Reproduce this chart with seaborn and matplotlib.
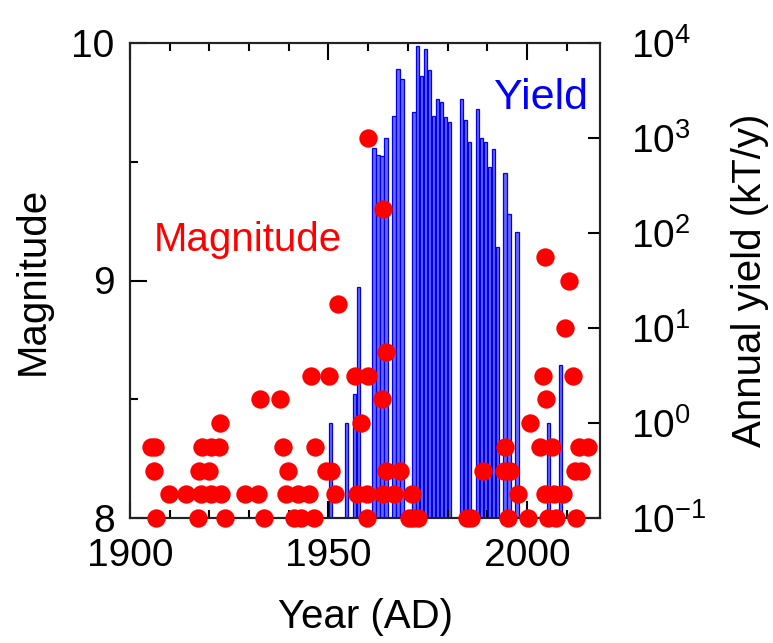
import numpy as np
import pandas as pd
import matplotlib
matplotlib.use("Agg")
import matplotlib.pyplot as plt
from matplotlib.ticker import MultipleLocator, FixedLocator, NullLocator
import seaborn as sns

# Earthquakes M >= 8 (year, magnitude)
quake_year = [
    1906.5, 1917.1, 1923.9, 1933.8, 1941.3, 1943.0, 1946.3, 1959.8, 1970.2, 1971.3,
    1972.5, 1984.9, 1985.8, 1995.1, 2000.3, 2005.3, 2007.4, 2012.4,
    1909.8, 1914.0, 1918.0, 1920.3, 1922.8, 1928.9, 1932.2, 1939.4, 1942.3, 1945.0,
    1951.6, 1957.2, 1959.8, 1963.8, 1966.4, 1971.0, 1997.7, 2004.5, 2006.7, 2009.0,
    1906.0, 1917.3, 1919.9, 1939.8, 1949.5, 1950.6, 1964.4, 1967.9, 1988.9, 1994.1,
    1995.8, 2012.0, 2013.6,
    1905.3, 1906.3, 1918.1, 1920.4, 1922.5, 1938.5, 1946.5, 1994.4, 2003.3, 2006.4,
    2013.0, 2015.3,
    1922.6, 1958.3, 2000.7,
    1932.7, 1937.7, 1963.5, 2004.9,
    1945.7, 1950.1, 1956.6, 1960.0, 2004.1, 2011.6,
    1964.6, 2009.5, 1952.4, 2010.6, 2004.5, 1963.7, 1960.0,
]
quake_mag = (
    [8.0] * 18 + [8.1] * 20 + [8.2] * 13 + [8.3] * 12 + [8.4] * 3 + [8.5] * 4
    + [8.6] * 6 + [8.7, 8.8, 8.9, 9.0, 9.1, 9.3, 9.6]
)

# Annual yield (kT/y)
bar_years = np.array([
    1950, 1954, 1956, 1957, 1961, 1962, 1963, 1964, 1966, 1967, 1968,
    1971, 1972, 1973, 1974, 1975, 1976, 1977, 1978, 1979, 1980,
    1983, 1984, 1985, 1987, 1988, 1989, 1990, 1991, 1992,
    1994, 1995, 1997, 2005, 2008,
])
bar_yield = [
    1.0, 1.0, 2.0, 27, 780, 660, 650, 1000, 1700, 5300, 4200,
    1900, 9400, 4500, 8700, 5200, 1700, 2600, 2400, 1650, 1480,
    2570, 1550, 915, 2000, 1000, 900, 500, 770, 71,
    425, 158, 103, 1.0, 4.1,
]

quakes = pd.DataFrame({"year": quake_year, "mag": quake_mag})

sns.set_style("ticks")
plt.rcParams["font.family"] = ["Liberation Sans", "DejaVu Sans"]
plt.rcParams["mathtext.fontset"] = "custom"
plt.rcParams["mathtext.rm"] = "Liberation Sans"
plt.rcParams["mathtext.default"] = "regular"
for k in ("text.color", "axes.labelcolor", "xtick.color", "ytick.color"):
    plt.rcParams[k] = "black"
fs = 29
tfs = 28

fig, ax = plt.subplots(figsize=(7.73, 6.43), dpi=100)
fig.subplots_adjust(left=130 / 773, right=600 / 773, bottom=1 - 518 / 643, top=1 - 43 / 643)
ax2 = ax.twinx()

# yield bars on the right (log) axis
ax2.set_yscale("log")
ax2.bar(bar_years + 0.5, bar_yield, width=0.85, color="#6868ff",
        edgecolor="#0000ee", linewidth=0.9)
ax2.set_ylim(0.1, 1e4)
ax2.yaxis.set_minor_locator(NullLocator())
ax2.tick_params(axis="y", direction="in", length=9, width=1.5, pad=22,
                labelsize=tfs)
ax2.set_ylabel("Annual yield (kT/y)", fontsize=fs, labelpad=18)

# magnitude dots on top
ax.set_zorder(ax2.get_zorder() + 1)
ax.patch.set_visible(False)
sns.scatterplot(data=quakes, x="year", y="mag", ax=ax, color="red", s=175,
                linewidth=0, clip_on=False, zorder=5, legend=False)

ax.set_xlim(1900, 2018.4)
ax.set_ylim(8, 10)
ax.xaxis.set_major_locator(FixedLocator([1900, 1950, 2000]))
ax.xaxis.set_minor_locator(MultipleLocator(10))
ax.yaxis.set_major_locator(FixedLocator([8, 9, 10]))
ax.yaxis.set_minor_locator(FixedLocator([8.5, 9.5]))
ax.tick_params(which="major", direction="in", top=True, length=12, width=1.5,
               labelsize=tfs)
ax.tick_params(axis="x", which="major", pad=14.5)
ax.tick_params(axis="y", which="major", pad=11)
ax.tick_params(which="minor", direction="in", top=True, length=6, width=1.5)
ax.set_xlabel("Year (AD)", fontsize=fs, labelpad=17)
ax.set_ylabel("Magnitude", fontsize=fs, labelpad=14)

for a in (ax, ax2):
    for sp in a.spines.values():
        sp.set_linewidth(1.5)
        sp.set_color("#222222")

ax.text(1929.7, 9.17, "Magnitude", color="red", fontsize=fs, ha="center", va="center")
ax.text(2003.5, 9.77, "Yield", color="blue", fontsize=fs + 2, ha="center", va="center")

fig.savefig("out.png", dpi=100)
